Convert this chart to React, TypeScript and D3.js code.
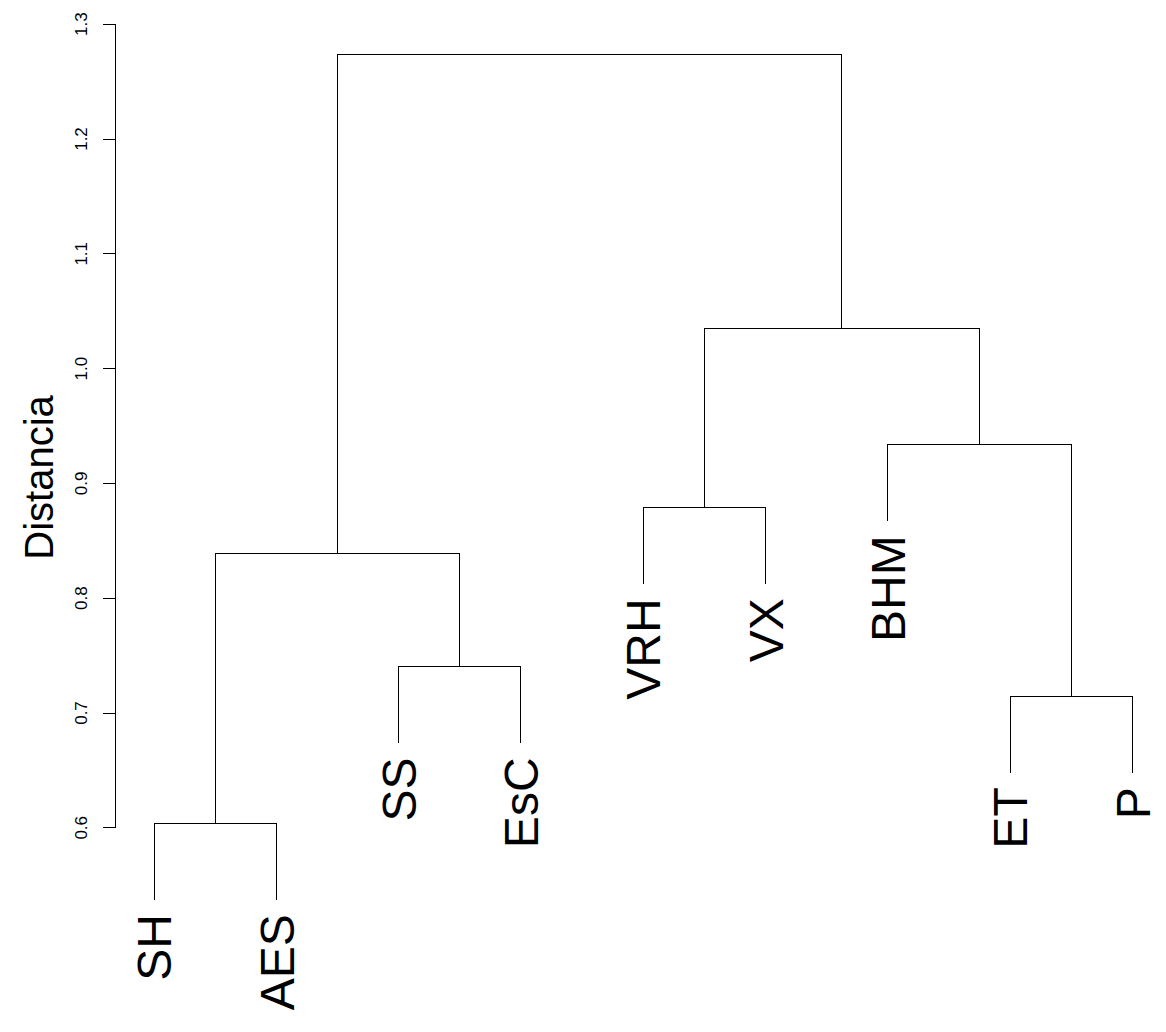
import React, { useEffect, useRef } from "react";
import * as d3 from "d3";

// leaf order as drawn, left to right
const leafLabels = ["SH", "AES", "SS", "EsC", "VRH", "VX", "BHM", "ET", "P"];

// merge table in R's hclust style: negative = leaf (1-based), positive = earlier merge
const mergeA = [-1, -3, -8, 1, -5, -7, 5, 4];
const mergeB = [-2, -4, -9, 2, -6, 3, 6, 7];
const mergeHeight = [0.6035, 0.74, 0.714, 0.8386, 0.8786, 0.9335, 1.0345, 1.273];

const yTicks = [0.6, 0.7, 0.8, 0.9, 1.0, 1.1, 1.2, 1.3];

interface DNode {
    name?: string;
    height: number;
    children?: DNode[];
}

function Dendrogram() {
    const svgRef = useRef<SVGSVGElement>(null);

    useEffect(() => {
        const W = 1166;
        const H = 1032;
        const font = "'Liberation Sans', Arial, Helvetica, sans-serif";
        const svg = d3.select(svgRef.current).attr("width", W).attr("height", H).style("background", "#fff");
        svg.selectAll("*").remove();

        const x = d3.scalePoint<string>().domain(leafLabels).range([154, 1132.3]);
        const y = d3.scaleLinear().domain([0.6, 1.3]).range([827.3, 23.7]);

        const hang = 0.1 * (d3.max(mergeHeight)! - d3.min(mergeHeight)!);

        // build the tree from the merge table
        const built: DNode[] = [];
        const pick = (k: number): DNode => (k < 0 ? { name: leafLabels[-k - 1], height: 0 } : built[k - 1]);
        mergeA.forEach((a, i) => {
            built.push({ height: mergeHeight[i], children: [pick(a), pick(mergeB[i])] });
        });
        const root = d3.hierarchy<DNode>(built[built.length - 1]);

        // x of each node: leaves from the point scale, inner nodes at midpoint of children
        const nx = new Map<d3.HierarchyNode<DNode>, number>();
        root.eachAfter(n => {
            if (!n.children) nx.set(n, x(n.data.name!)!);
            else nx.set(n, d3.mean(n.children, c => nx.get(c)!)!);
        });
        const ny = (n: d3.HierarchyNode<DNode>) => (n.children ? n.data.height : n.parent!.data.height - hang);

        const g = svg.append("g").attr("fill", "none").attr("stroke", "#000").attr("stroke-width", 1);
        root.each(n => {
            if (!n.children) return;
            const px = nx.get(n)!;
            const py = y(n.data.height);
            n.children.forEach(c => {
                const cx = nx.get(c)!;
                g.append("path")
                    .attr("d", d3.line()([[px, py], [cx, py], [cx, y(ny(c))]]))
                    .attr("shape-rendering", "crispEdges");
            });
        });

        // leaf labels
        root.leaves().forEach(l => {
            const lx = nx.get(l)!;
            const ly = y(ny(l)) + 14;
            svg.append("text")
                .attr("transform", `translate(${lx},${ly}) rotate(-90)`)
                .attr("text-anchor", "end")
                .attr("dy", "0.36em")
                .style("font-family", font)
                .style("font-size", "48px")
                .attr("fill", "#000")
                .text(l.data.name!);
        });

        // y axis
        const axisG = svg
            .append("g")
            .attr("transform", "translate(115,0)")
            .call(d3.axisLeft(y).tickValues(yTicks).tickSize(12).tickSizeOuter(0).tickFormat(d3.format(".1f")));
        axisG.selectAll("path, line").attr("stroke", "#000").attr("shape-rendering", "crispEdges");
        axisG
            .selectAll("text")
            .attr("transform", "rotate(-90)")
            .attr("x", 0)
            .attr("y", -28)
            .attr("dy", 0)
            .attr("text-anchor", "middle")
            .attr("fill", "#000")
            .style("font-family", font)
            .style("font-size", "17px");

        const lowLeaf = d3.min(root.leaves(), l => ny(l))!;
        const midY = (y(lowLeaf) + y(d3.max(mergeHeight)!)) / 2;
        svg.append("text")
            .attr("transform", `translate(53,${midY}) rotate(-90)`)
            .attr("text-anchor", "middle")
            .style("font-family", font)
            .style("font-size", "40px")
            .attr("fill", "#000")
            .text("Distancia");
    }, []);

    return <svg ref={svgRef} style={{ position: "absolute", left: 0, top: 0 }} />;
}

export default function App() {
    return <Dendrogram />;
}
